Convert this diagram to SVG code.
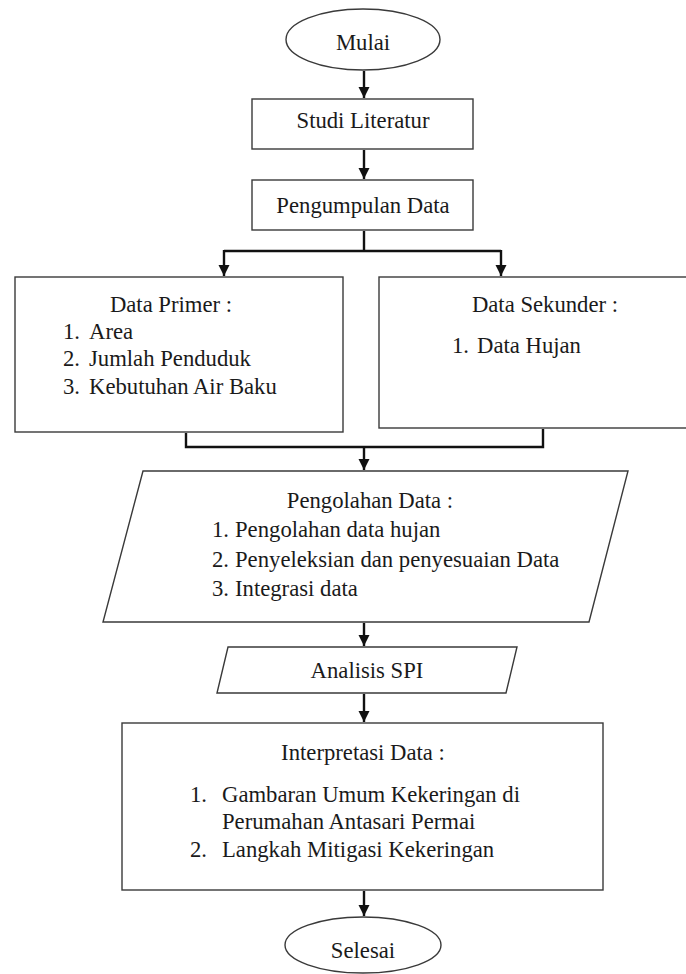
<svg xmlns="http://www.w3.org/2000/svg" width="686" height="974" viewBox="0 0 686 974">
<defs>
<style>
.shape{fill:#fff;stroke:#3a3a3a;stroke-width:1.4}
.t{font-family:"Liberation Serif","Times New Roman",serif;font-size:22.7px;fill:#1a1a1a}
.c{text-anchor:middle}
.conn{fill:none;stroke:#111;stroke-width:2.4}
</style>
<marker id="arr" markerUnits="userSpaceOnUse" markerWidth="12" markerHeight="12" viewBox="0 0 12 12" refX="11" refY="6" orient="auto">
<path d="M0,0.5 L11,6 L0,11.5 Z" fill="#111"/>
</marker>
</defs>
<rect width="686" height="974" fill="#fff"/>

<g id="connectors">
<line class="conn" x1="364" y1="71" x2="364" y2="98" marker-end="url(#arr)"/>
<line class="conn" x1="364" y1="150" x2="364" y2="179" marker-end="url(#arr)"/>
<polyline class="conn" points="364,231 364,251"/>
<polyline class="conn" points="224,251 501,251"/>
<line class="conn" x1="224" y1="250" x2="224" y2="276" marker-end="url(#arr)"/>
<line class="conn" x1="501" y1="250" x2="501" y2="276" marker-end="url(#arr)"/>
<polyline class="conn" points="186,433 186,447 543,447 543,429"/>
<line class="conn" x1="364" y1="447" x2="364" y2="470" marker-end="url(#arr)"/>
<line class="conn" x1="364" y1="623" x2="364" y2="646" marker-end="url(#arr)"/>
<line class="conn" x1="364" y1="694" x2="364" y2="722" marker-end="url(#arr)"/>
<line class="conn" x1="364" y1="891" x2="364" y2="916" marker-end="url(#arr)"/>
</g>

<g id="mulai">
<ellipse class="shape" cx="363" cy="39.5" rx="77" ry="30.5"/>
<text class="t c" x="363" y="50">Mulai</text>
</g>

<g id="studi-literatur">
<rect class="shape" x="252" y="99" width="221" height="50"/>
<text class="t c" x="363" y="128">Studi Literatur</text>
</g>

<g id="pengumpulan-data">
<rect class="shape" x="252" y="180" width="221" height="50"/>
<text class="t c" x="363" y="213">Pengumpulan Data</text>
</g>

<g id="data-primer">
<rect class="shape" x="15" y="277" width="328" height="155"/>
<text class="t c" x="171" y="312">Data Primer :</text>
<text class="t" x="63" y="339">1.</text><text class="t" x="89" y="339">Area</text>
<text class="t" x="63" y="366">2.</text><text class="t" x="89" y="366">Jumlah Penduduk</text>
<text class="t" x="63" y="394">3.</text><text class="t" x="89" y="394">Kebutuhan Air Baku</text>
</g>

<g id="data-sekunder">
<rect class="shape" x="379" y="277" width="320" height="151"/>
<text class="t c" x="545" y="312">Data Sekunder :</text>
<text class="t" x="452" y="353">1.</text><text class="t" x="477" y="353">Data Hujan</text>
</g>

<g id="pengolahan-data">
<polygon class="shape" points="143,471 628,471 589,622 103,622"/>
<text class="t c" x="370" y="508">Pengolahan Data :</text>
<text class="t" x="212" y="537">1.</text><text class="t" x="235" y="537">Pengolahan data hujan</text>
<text class="t" x="212" y="567">2.</text><text class="t" x="235" y="567">Penyeleksian dan penyesuaian Data</text>
<text class="t" x="212" y="596">3.</text><text class="t" x="235" y="596">Integrasi data</text>
</g>

<g id="analisis-spi">
<polygon class="shape" points="228,647 517,647 506,693 217,693"/>
<text class="t c" x="367" y="678">Analisis SPI</text>
</g>

<g id="interpretasi-data">
<rect class="shape" x="122" y="723" width="481" height="167"/>
<text class="t c" x="363" y="760">Interpretasi Data :</text>
<text class="t" x="190" y="802">1.</text><text class="t" x="222" y="802">Gambaran Umum Kekeringan di</text>
<text class="t" x="222" y="829">Perumahan Antasari Permai</text>
<text class="t" x="190" y="857">2.</text><text class="t" x="222" y="857">Langkah Mitigasi Kekeringan</text>
</g>

<g id="selesai">
<ellipse class="shape" cx="363" cy="945" rx="78" ry="28"/>
<text class="t c" x="363" y="958">Selesai</text>
</g>
</svg>
